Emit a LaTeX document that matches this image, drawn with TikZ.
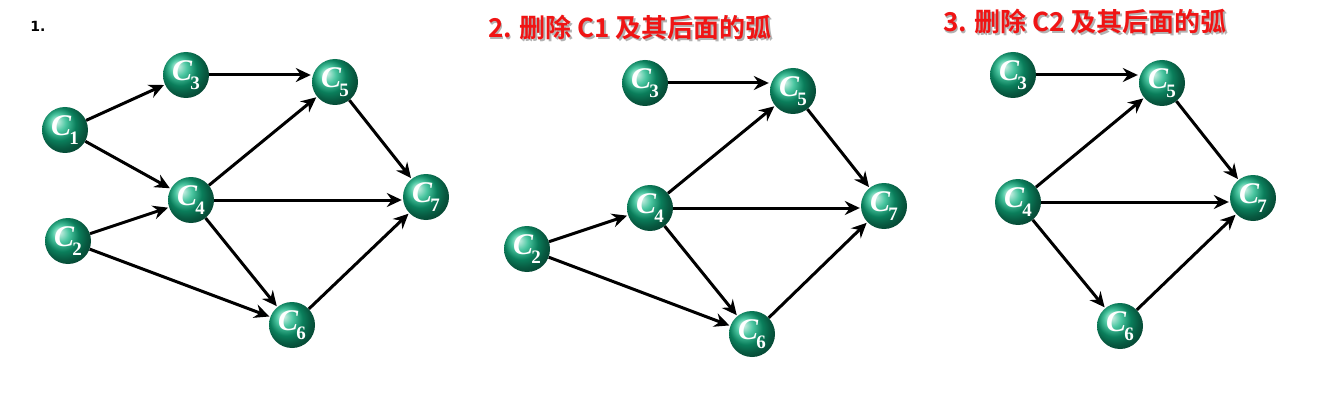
\documentclass[tikz,border=0pt]{standalone}
\usepackage{fontspec}
\newfontfamily\cjk{Noto Sans CJK SC}[BoldFont={Noto Sans CJK SC Bold}]
\newfontfamily\numfont{DejaVu Sans}
\newfontfamily\ballfont{Liberation Serif}
\usetikzlibrary{arrows.meta,shadings}
\definecolor{ballgreen}{RGB}{15,180,130}
\definecolor{titlered}{RGB}{240,20,20}
\newcommand{\cl}[1]{\textbf{\textit{C}}\kern-2pt\raisebox{-0.3em}{\fontsize{19}{20}\selectfont\bfseries #1}}
\tikzset{
  vtx/.style={circle, minimum size=46pt, inner sep=0pt, shading=ball, ball color=ballgreen,
    text=white, font=\ballfont\fontsize{30}{32}\selectfont},
  arc/.style={line width=3pt, -{Stealth[length=15pt,width=14pt,inset=5pt]}, shorten >=1pt},
  ttl/.style={font=\cjk\bfseries\fontsize{26}{30}\selectfont, text=titlered, inner sep=0pt},
  ttlshadow/.style={font=\cjk\bfseries\fontsize{26}{30}\selectfont, text=black!30, inner sep=0pt}
}
\begin{document}
\begin{tikzpicture}[x=1pt,y=-1pt]
\useasboundingbox[fill=white] (0,0) rectangle (1320,401);
% panel 1
\node[font=\numfont\bfseries\fontsize{14}{16}\selectfont, inner sep=0pt] (lab1) at (38,26) {1.};
\node[vtx] (a1) at (65,130) {\cl{1}};
\node[vtx] (a2) at (68,241) {\cl{2}};
\node[vtx] (a3) at (186,75) {\cl{3}};
\node[vtx] (a4) at (191,200) {\cl{4}};
\node[vtx] (a5) at (335,82) {\cl{5}};
\node[vtx] (a6) at (292,325) {\cl{6}};
\node[vtx] (a7) at (426,197) {\cl{7}};
\draw[arc] (a1) -- (a3);
\draw[arc] (a1) -- (a4);
\draw[arc] (a2) -- (a4);
\draw[arc] (a2) -- (a6);
\draw[arc] (a3.east) -- (a3 -| a5.west);
\draw[arc] (a4) -- (a5);
\draw[arc] (a4.east) -- (a4 -| a7.west);
\draw[arc] (a4) -- (a6);
\draw[arc] (a5) -- (a7);
\draw[arc] (a6) -- (a7);
% panel 2
\node[ttlshadow] (t2s) at (631.5,29.5) {2. 删除 C1 及其后面的弧};
\node[ttl] (t2) at (630,28) {2. 删除 C1 及其后面的弧};
\node[vtx] (b2) at (527,249) {\cl{2}};
\node[vtx] (b3) at (645,83) {\cl{3}};
\node[vtx] (b4) at (650,208) {\cl{4}};
\node[vtx] (b5) at (793,91) {\cl{5}};
\node[vtx] (b6) at (752,334) {\cl{6}};
\node[vtx] (b7) at (884,206) {\cl{7}};
\draw[arc] (b2) -- (b4);
\draw[arc] (b2) -- (b6);
\draw[arc] (b3.east) -- (b3 -| b5.west);
\draw[arc] (b4) -- (b5);
\draw[arc] (b4.east) -- (b4 -| b7.west);
\draw[arc] (b4) -- (b6);
\draw[arc] (b5) -- (b7);
\draw[arc] (b6) -- (b7);
% panel 3
\node[ttlshadow] (t3s) at (1086.5,23.5) {3. 删除 C2 及其后面的弧};
\node[ttl] (t3) at (1085,22) {3. 删除 C2 及其后面的弧};
\node[vtx] (c3) at (1013,75) {\cl{3}};
\node[vtx] (c4) at (1018,202) {\cl{4}};
\node[vtx] (c5) at (1162,83) {\cl{5}};
\node[vtx] (c6) at (1120,326) {\cl{6}};
\node[vtx] (c7) at (1253,198) {\cl{7}};
\draw[arc] (c3.east) -- (c3 -| c5.west);
\draw[arc] (c4) -- (c5);
\draw[arc] (c4.east) -- (c4 -| c7.west);
\draw[arc] (c4) -- (c6);
\draw[arc] (c5) -- (c7);
\draw[arc] (c6) -- (c7);
\end{tikzpicture}
\end{document}
